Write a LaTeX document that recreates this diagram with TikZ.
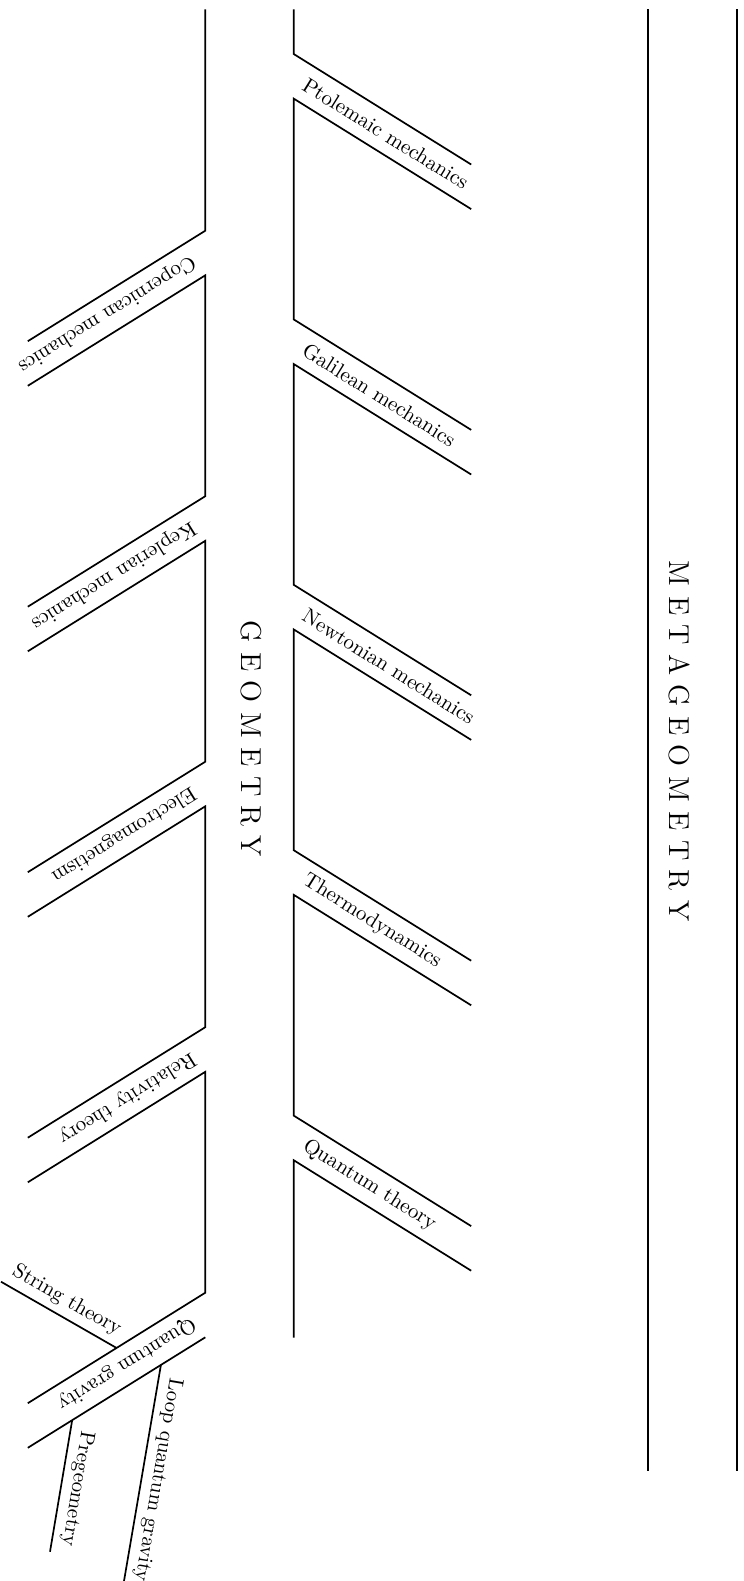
\documentclass[tikz,border=0pt]{standalone}
\usetikzlibrary{calc}

\begin{document}
\begin{tikzpicture}[x=0.5pt, y=-0.5pt, line width=0.85pt,
    branch/.style={font=\fontsize{10.5}{12.6}\selectfont, inner sep=3pt},
    title/.style={font=\Large, rotate=-90}]
    \useasboundingbox (0,0) rectangle (744,1581);

    % metageometry
    \draw (648.3,9.3) -- (648.3,1470.7);
    \draw (736.7,9.3) -- (736.7,1470.7);
    \node[title] (meta) at (679.5,741) {M E T A G E O M E T R Y};
    \node[title] (geo) at (251,739) {G E O M E T R Y};

    % right spine
    \draw (293.7,9.3) -- (293.7,54) -- ++(177.5,110.5);
    \foreach \y/\yy in {54/319.4, 319.4/584.8, 584.8/850.2, 850.2/1115.6}
        \draw (471.2,\y+155.1) -- (293.7,\y+44.6) -- (293.7,\yy) -- ++(177.5,110.5);
    \draw (471.2,1270.7) -- (293.7,1160.2) -- (293.7,1337.7);

    \foreach \y/\name/\txt in {54/ptol/Ptolemaic mechanics, 319.4/gal/Galilean mechanics,
            584.8/newt/Newtonian mechanics, 850.2/thermo/Thermodynamics,
            1115.6/qt/Quantum theory}
        \node[branch, inner xsep=6pt, anchor=west, rotate=-31.9] (\name) at (293.7,\y+22.3) {\txt};

    % left spine
    \draw (205.3,9.3) -- (205.3,230.7) -- ++(-177.5,110.5);
    \foreach \y/\yy in {230.7/496.2, 496.2/761.7, 761.7/1027.2, 1027.2/1292.7}
        \draw (27.8,\y+155.1) -- (205.3,\y+44.6) -- (205.3,\yy) -- ++(-177.5,110.5);
    \draw (205.3,1337.3) -- ++(-177.5,110.5);

    \foreach \y/\name/\txt in {230.7/cop/Copernican mechanics, 496.2/kep/Keplerian mechanics,
            761.7/em/Electromagnetism, 1027.2/rel/Relativity theory,
            1292.7/qg/Quantum gravity}
        \node[branch, inner xsep=6.5pt, anchor=west, rotate=211.9] (\name) at (205.3,\y+22.3) {\txt};

    % quantum gravity offshoots
    \coordinate (qa) at (205.3,1292.7);
    \coordinate (qb) at (27.8,1403.2);
    \coordinate (qc) at (205.3,1337.3);
    \coordinate (qd) at (27.8,1447.8);
    \coordinate (st) at (1,1281.7);
    \coordinate (pg) at (50,1551.7);
    \coordinate (lqg) at (124,1581);

    \draw (st) -- ($(qa)!0.5!(qb)$) node[branch, midway, sloped, above] (string) {String theory};
    \draw ($(qc)!0.75!(qd)$) -- (pg)
        node[branch, midway, anchor=south, rotate=-99.4] (pre) {Pregeometry};
    \draw ($(qc)!0.25!(qd)$) -- (lqg)
        node[branch, pos=0.52, anchor=south, rotate=-99.7] (loop) {Loop quantum gravity};
\end{tikzpicture}
\end{document}
